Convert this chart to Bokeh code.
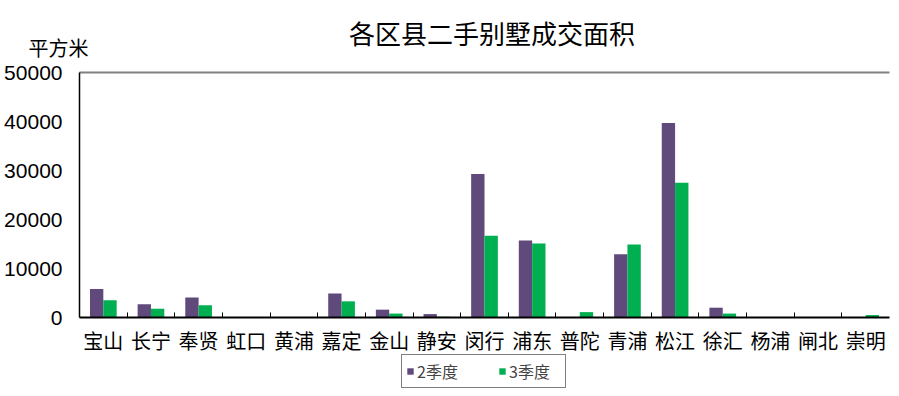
from bokeh.plotting import figure
from bokeh.models import (Range1d, LinearAxis, FixedTicker, CustomJSTickFormatter,
                          Legend, LegendItem, Label, ColumnDataSource)
from bokeh.transform import dodge
from bokeh.embed import file_html
from bokeh.resources import INLINE

# ---- data ----
districts = ["宝山", "长宁", "奉贤", "虹口", "黄浦", "嘉定", "金山", "静安", "闵行",
             "浦东", "普陀", "青浦", "松江", "徐汇", "杨浦", "闸北", "崇明"]
q2 = [5800, 2700, 4100, 0, 0, 4900, 1600, 700, 29300, 15700, 100, 12900, 39700, 2000, 0, 0, 0]
q3 = [3500, 1800, 2500, 0, 0, 3300, 800, 150, 16700, 15100, 1100, 14900, 27500, 800, 0, 0, 500]
series_names = ["2季度", "3季度"]
y_ticks = [0, 10000, 20000, 30000, 40000, 50000]
title_text = "各区县二手别墅成交面积"
unit_text = "平方米"

# ---- layout (pixels) ----
W, H = 899, 396
L, R, T, B = 79, 889, 72, 317
n = len(districts)
ymax = y_ticks[-1]
cw = (R - L) / n
ypx = (B - T) / ymax
x_start, x_end = -L / cw, n + (W - R) / cw
y_start, y_end = -(H - B) / ypx, ymax + T / ypx


def sx(px):
    return x_start + px / cw


def sy(py):
    return y_end - py / ypx


pos = [i + 0.5 for i in range(n)]
bounds = [i for i in range(1, n)]

CJK = "Noto Sans CJK SC"

p = figure(width=W, height=H, x_range=Range1d(x_start, x_end), y_range=Range1d(y_start, y_end),
           output_backend="svg", toolbar_location=None, x_axis_type=None, y_axis_type=None,
           min_border=0)
p.outline_line_color = None
p.background_fill_color = "white"

xaxis = LinearAxis(
    fixed_location=0, bounds=(0, n),
    ticker=FixedTicker(ticks=pos, minor_ticks=bounds),
    formatter=CustomJSTickFormatter(args=dict(names=districts),
                                    code="return names[Math.floor(tick)] || '';"),
    major_tick_in=0, major_tick_out=0,
    minor_tick_in=5, minor_tick_out=0, minor_tick_line_color="black", minor_tick_line_width=1,
    axis_line_color="black", axis_line_width=2,
    major_label_text_font=CJK, major_label_text_font_size="20px",
    major_label_text_color="black", major_label_standoff=8)
p.add_layout(xaxis, "below")

yaxis = LinearAxis(
    fixed_location=0, bounds=(0, ymax),
    ticker=FixedTicker(ticks=y_ticks),
    major_tick_in=0, major_tick_out=0, minor_tick_line_color=None,
    axis_line_color="black", axis_line_width=1.5,
    major_label_text_font="Liberation Sans", major_label_text_font_size="21px",
    major_label_text_color="black", major_label_standoff=17)
p.add_layout(yaxis, "left")

top_axis = LinearAxis(
    fixed_location=ymax, bounds=(0, n), ticker=FixedTicker(ticks=[]),
    major_tick_line_color=None, minor_tick_line_color=None,
    major_label_text_font_size="0px",
    axis_line_color="#808080", axis_line_width=2)
p.add_layout(top_axis, "above")

src = ColumnDataSource(dict(x=pos, q2=q2, q3=q3))
r2 = p.vbar(x=dodge("x", -0.14), top="q2", width=0.28, source=src,
            fill_color="#604A7B", line_color=None)
r3 = p.vbar(x=dodge("x", 0.14), top="q3", width=0.28, source=src,
            fill_color="#00B050", line_color=None)

legend = Legend(items=[LegendItem(label=series_names[0], renderers=[r2]),
                       LegendItem(label=series_names[1], renderers=[r3])],
                orientation="horizontal", location=(401, 8),
                border_line_color="black", border_line_width=1,
                background_fill_color="white",
                label_text_font=CJK, label_text_font_size="16px",
                glyph_width=8, glyph_height=8, label_standoff=3,
                label_width=52, spacing=29, padding=4, margin=0)
p.add_layout(legend)

p.add_layout(Label(x=sx(491.5), y=sy(32), text=title_text, text_align="center",
                   text_baseline="middle", text_font=CJK, text_font_size="26px",
                   text_color="black"))
p.add_layout(Label(x=sx(28), y=sy(47), text=unit_text, text_align="left",
                   text_baseline="middle", text_font=CJK, text_font_size="20px",
                   text_color="black"))

open("out.html", "w").write(file_html(p, INLINE))
